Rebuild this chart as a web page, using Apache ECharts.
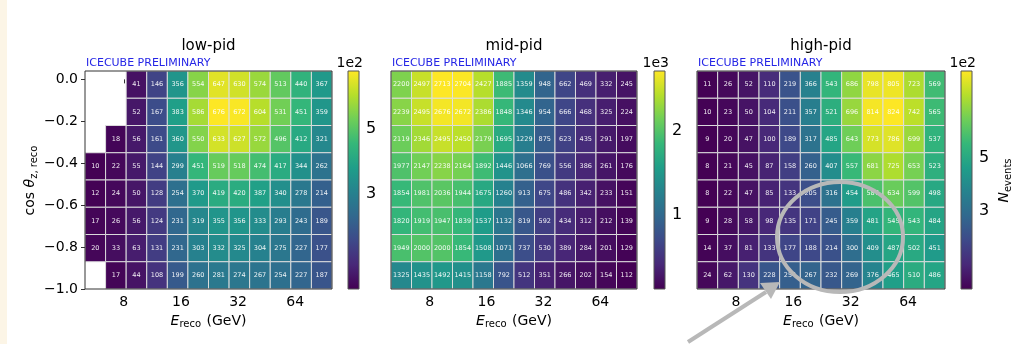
<!DOCTYPE html>
<html><head><meta charset="utf-8">
<script src="https://cdn.jsdelivr.net/npm/echarts@6/dist/echarts.min.js"></script>
<style>html,body{margin:0;padding:0;background:#fff}#c{width:1019px;height:344px}</style>
</head><body><div id="c"></div>
<script>
// ---------- data ----------
const panelTitles = ['low-pid', 'mid-pid', 'high-pid'];
const xTicks = [8, 16, 32, 64];
const yTicks = [0.0, -0.2, -0.4, -0.6, -0.8, -1.0];
// reconstructed energy bin edges (GeV), log-uniform 5..100
const energyEdges = [5.0, 6.418, 8.238, 10.575, 13.572, 17.421, 22.361, 28.702, 36.840, 47.287, 60.696, 77.91, 100.0];
// cos(zenith) bin edges, bottom to top
const cosEdges = [-1.0, -0.87, -0.74, -0.61, -0.48, -0.35, -0.22, -0.09, 0.04];
// rows listed top (cos ~ 0) to bottom (cos ~ -1)
const lowPid = [
  [null, null, 41, 146, 356, 554, 647, 630, 574, 513, 440, 367],
  [null, null, 52, 167, 383, 586, 676, 672, 604, 531, 451, 359],
  [null, 18, 56, 161, 360, 550, 633, 627, 572, 496, 412, 321],
  [10, 22, 55, 144, 299, 451, 519, 518, 474, 417, 344, 262],
  [12, 24, 50, 128, 254, 370, 419, 420, 387, 340, 278, 214],
  [17, 26, 56, 124, 231, 319, 355, 356, 333, 293, 243, 189],
  [20, 33, 63, 131, 231, 303, 332, 325, 304, 275, 227, 177],
  [null, 17, 44, 108, 199, 260, 281, 274, 267, 254, 227, 187]
];
const midPid = [
  [2200, 2497, 2713, 2704, 2427, 1885, 1359, 948, 662, 469, 332, 245],
  [2239, 2495, 2676, 2672, 2386, 1848, 1346, 954, 666, 468, 325, 224],
  [2119, 2346, 2495, 2450, 2179, 1695, 1229, 875, 623, 435, 291, 197],
  [1977, 2147, 2238, 2164, 1892, 1446, 1066, 769, 556, 386, 261, 176],
  [1854, 1981, 2036, 1944, 1675, 1260, 913, 675, 486, 342, 233, 151],
  [1820, 1919, 1947, 1839, 1537, 1132, 819, 592, 434, 312, 212, 139],
  [1949, 2000, 2000, 1854, 1508, 1071, 737, 530, 389, 284, 201, 129],
  [1325, 1435, 1492, 1415, 1158, 792, 512, 351, 266, 202, 154, 112]
];
const highPid = [
  [11, 26, 52, 110, 219, 366, 543, 686, 798, 805, 723, 569],
  [10, 23, 50, 104, 211, 357, 521, 696, 814, 824, 742, 565],
  [9, 20, 47, 100, 189, 317, 485, 643, 773, 786, 699, 537],
  [8, 21, 45, 87, 158, 260, 407, 557, 681, 725, 653, 523],
  [8, 22, 47, 85, 133, 205, 316, 454, 587, 634, 599, 498],
  [9, 28, 58, 98, 135, 171, 245, 359, 481, 545, 543, 484],
  [14, 37, 81, 133, 177, 188, 214, 300, 409, 487, 502, 451],
  [24, 62, 130, 228, 254, 267, 232, 269, 376, 465, 510, 486]
];
const colorRanges = [[10, 676], [112, 2713], [8, 824]];
const cbTicks = [[300, 500], [1000, 2000], [300, 500]];
const cbExponents = ['1e2', '1e3', '1e2'];
const cbScale = [100, 1000, 100];

// ---------- layout / style ----------
const FONT = 'DejaVu Sans';
const viridis = ['#440154','#482878','#3e4989','#31688e','#26828e','#1f9e89','#35b779','#6ece58','#b5de2b','#fde725'];
const panels = [lowPid, midPid, highPid];
const gridLeft = [85, 391, 697];
const gridWidth = [247, 246, 248];
const cbLeft = [348, 654, 961];
const TOP = 71, H = 218;

function cells(mat) {
  const out = [];
  mat.forEach((row, r) => {
    const yi = mat.length - 1 - r;
    row.forEach((v, c) => {
      if (v == null) return;
      out.push([energyEdges[c], energyEdges[c + 1], cosEdges[yi], cosEdges[yi + 1], v]);
    });
  });
  return out;
}

function cellRender(params, api) {
  const a = api.coord([api.value(0), api.value(3)]);
  const b = api.coord([api.value(1), api.value(2)]);
  return {type: 'group', children: [
    {type: 'rect', shape: {x: a[0], y: a[1], width: b[0] - a[0], height: b[1] - a[1]},
     style: {fill: api.visual('color'), stroke: 'rgba(222,222,222,0.95)', lineWidth: 1}},
    {type: 'text', x: (a[0] + b[0]) / 2, y: (a[1] + b[1]) / 2,
     style: {text: String(api.value(4)), fill: 'rgba(255,255,255,0.92)', font: '6.5px ' + FONT, align: 'center', verticalAlign: 'middle'}}
  ]};
}
function cbRender(params, api) {
  const a = api.coord([0, api.value(1)]);
  const b = api.coord([1, api.value(0)]);
  return {type: 'rect', shape: {x: a[0], y: a[1], width: b[0] - a[0], height: b[1] - a[1]},
    style: {fill: {type: 'linear', x: 0, y: 1, x2: 0, y2: 0,
      colorStops: viridis.map((c, i) => ({offset: i / (viridis.length - 1), color: c}))}}};
}

const grid = [], xAxis = [], yAxis = [], series = [], visualMap = [], graphic = [];
const frame = {show: true, z: 5, borderColor: '#333', borderWidth: 1, backgroundColor: 'rgba(0,0,0,0)'};
const xName = '{i|E}{s|reco} (GeV)';
const nameRich = {
  i: {fontFamily: FONT, fontStyle: 'italic', fontSize: 14, color: '#000'},
  s: {fontFamily: FONT, fontSize: 10, color: '#000', padding: [7, 1, 0, 0]},
  t: {fontFamily: FONT, fontSize: 14, color: '#000'}
};

for (let p = 0; p < 3; p++) {
  grid.push(Object.assign({left: gridLeft[p], top: TOP, width: gridWidth[p], height: H}, frame));
  xAxis.push({type: 'log', logBase: 2, gridIndex: p, min: 5, max: 100, position: 'bottom',
    splitLine: {show: false}, axisLine: {show: false},
    axisTick: {show: true, length: 4, customValues: xTicks, lineStyle: {color: '#333'}},
    axisLabel: {customValues: xTicks, margin: 6, fontFamily: FONT, fontSize: 14, color: '#000', formatter: v => String(Math.round(v))},
    name: xName, nameLocation: 'middle', nameGap: 22,
    nameTextStyle: {rich: nameRich, fontFamily: FONT, fontSize: 14, color: '#000'}
  });
  yAxis.push({type: 'value', gridIndex: p, min: -1.0, max: 0.04,
    splitLine: {show: false}, axisLine: {show: false},
    axisTick: {show: p === 0, length: 4, customValues: yTicks, lineStyle: {color: '#333'}},
    axisLabel: {show: p === 0, customValues: yTicks, margin: 7, fontFamily: FONT, fontSize: 14, color: '#000',
      formatter: v => (v < 0 ? '\u2212' : '') + Math.abs(v).toFixed(1)},
    name: p === 0 ? '{t|cos }{i|θ}{s|z, reco}' : '', nameLocation: 'middle', nameGap: 46, nameRotate: 90,
    nameTextStyle: {rich: nameRich, fontFamily: FONT, fontSize: 14, color: '#000'}
  });
  series.push({type: 'custom', xAxisIndex: p, yAxisIndex: p, renderItem: cellRender,
    encode: {x: [0, 1], y: [2, 3]}, data: cells(panels[p]), clip: true});
  visualMap.push({type: 'continuous', show: false, seriesIndex: p, dimension: 4,
    min: colorRanges[p][0], max: colorRanges[p][1], inRange: {color: viridis}});
}
for (let p = 0; p < 3; p++) {
  const g = 3 + p;
  grid.push(Object.assign({left: cbLeft[p], top: TOP, width: 11, height: H}, frame, {borderColor: '#555'}));
  xAxis.push({type: 'value', gridIndex: g, min: 0, max: 1, show: false});
  yAxis.push({type: 'value', gridIndex: g, position: 'right', min: colorRanges[p][0], max: colorRanges[p][1],
    splitLine: {show: false}, axisLine: {show: false},
    axisTick: {show: true, length: 4, customValues: cbTicks[p], lineStyle: {color: '#333'}},
    axisLabel: {customValues: cbTicks[p], margin: 7, fontFamily: FONT, fontSize: 16, color: '#000',
      formatter: v => String(Math.round(v / cbScale[p]))},
    name: p === 2 ? '{i|N}{s|events}' : '', nameLocation: 'middle', nameGap: 24, nameRotate: 90,
    nameTextStyle: {rich: nameRich, fontFamily: FONT, fontSize: 14, color: '#000'}
  });
  series.push({type: 'custom', xAxisIndex: g, yAxisIndex: g, renderItem: cbRender,
    encode: {y: [0, 1]}, data: [[colorRanges[p][0], colorRanges[p][1]]]});
  graphic.push({type: 'text', x: gridLeft[p] + gridWidth[p] / 2, y: 46,
    style: {text: panelTitles[p], font: '15px ' + FONT, fill: '#000', align: 'center', verticalAlign: 'middle'}});
  graphic.push({type: 'text', x: gridLeft[p] + 1, y: 63,
    style: {text: 'ICECUBE PRELIMINARY', font: '11px ' + FONT, fill: '#2525e6', align: 'left', verticalAlign: 'middle'}});
  graphic.push({type: 'text', x: cbLeft[p] + 15, y: 63,
    style: {text: cbExponents[p], font: '14px ' + FONT, fill: '#000', align: 'right', verticalAlign: 'middle'}});
}
// annotation: circle + arrow on high-pid
graphic.push({type: 'ellipse', shape: {cx: 840, cy: 237, rx: 63, ry: 55}, z: 100,
  style: {fill: 'none', stroke: '#b8b8b8', lineWidth: 4}});
graphic.push({type: 'line', shape: {x1: 688, y1: 342, x2: 766, y2: 292}, z: 100,
  style: {stroke: '#b8b8b8', lineWidth: 4}});
graphic.push({type: 'polygon', shape: {points: [[780, 282], [771, 299], [760, 283]]}, z: 100,
  style: {fill: '#b8b8b8'}});
graphic.push({type: 'rect', shape: {x: 0, y: 0, width: 7, height: 344}, z: 100, style: {fill: '#fcf5e6'}});

const chart = echarts.init(document.getElementById('c'), null, {renderer: 'canvas'});
chart.setOption({animation: false, backgroundColor: '#fff', grid, xAxis, yAxis, visualMap, series, graphic});
</script></body></html>
